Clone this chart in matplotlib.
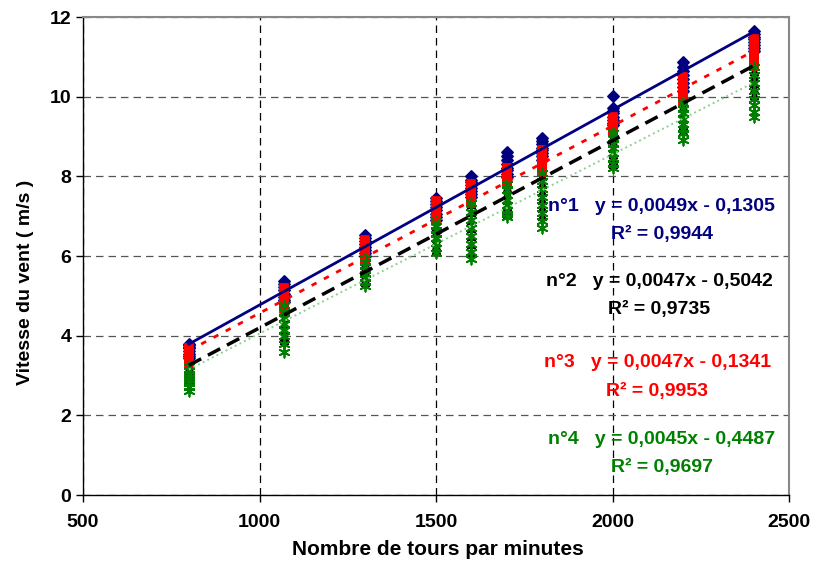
import matplotlib
matplotlib.use("Agg")
import matplotlib.pyplot as plt
import numpy as np

plt.rcParams['font.family'] = ['Liberation Sans', 'DejaVu Sans']
plt.rcParams['font.weight'] = 'bold'

rpm = [800, 1070, 1300, 1500, 1600, 1700, 1800, 2000, 2200, 2400]

s1 = [  # n°1 (blue)
    [3.80, 3.76, 3.72, 3.68, 3.62, 3.55, 3.50, 3.45],
    [5.38, 5.30, 5.22, 5.15, 5.05, 4.98, 4.90, 4.85],
    [6.52, 6.45, 6.38, 6.30, 6.22, 6.15, 6.08, 6.00],
    [7.45, 7.38, 7.30, 7.22, 7.15, 7.05, 6.98, 6.90],
    [8.00, 7.92, 7.85, 7.78, 7.70, 7.62, 7.55, 7.48],
    [8.62, 8.50, 8.40, 8.30, 8.22, 8.15, 8.05, 7.98],
    [8.95, 8.88, 8.80, 8.72, 8.65, 8.58, 8.50, 8.42],
    [10.02, 9.72, 9.65, 9.58, 9.50, 9.42, 9.35, 9.28],
    [10.88, 10.75, 10.65, 10.55, 10.45, 10.35, 10.25, 10.15],
    [11.65, 11.58, 11.50, 11.44, 11.38, 11.30, 11.22, 11.15],
]
s2 = [  # n°2 (black)
    [3.50, 3.40, 3.30, 3.20, 3.10, 3.00, 2.95, 2.90],
    [4.90, 4.75, 4.60, 4.45, 4.30, 4.15, 4.00, 3.90],
    [6.10, 5.95, 5.80, 5.70, 5.60, 5.50, 5.40, 5.35],
    [7.00, 6.90, 6.75, 6.60, 6.45, 6.35, 6.25, 6.15],
    [7.50, 7.30, 7.10, 6.90, 6.70, 6.50, 6.30, 6.10],
    [8.00, 7.85, 7.70, 7.55, 7.40, 7.25, 7.15, 7.05],
    [8.40, 8.20, 8.00, 7.80, 7.60, 7.40, 7.20, 7.00],
    [9.30, 9.15, 9.00, 8.85, 8.70, 8.55, 8.40, 8.30],
    [10.20, 10.05, 9.90, 9.75, 9.60, 9.45, 9.30, 9.15],
    [11.10, 10.95, 10.80, 10.65, 10.50, 10.35, 10.20, 10.05],
]
s3 = [  # n°3 (red)
    [3.70, 3.64, 3.58, 3.52, 3.46, 3.40, 3.34, 3.28],
    [5.20, 5.12, 5.05, 4.98, 4.90, 4.82, 4.75, 4.68],
    [6.40, 6.33, 6.26, 6.19, 6.12, 6.05, 5.98, 5.92],
    [7.38, 7.30, 7.22, 7.15, 7.08, 7.00, 6.94, 6.88],
    [7.80, 7.73, 7.66, 7.60, 7.53, 7.47, 7.40, 7.34],
    [8.20, 8.14, 8.08, 8.02, 7.96, 7.90, 7.85, 7.80],
    [8.66, 8.58, 8.50, 8.42, 8.34, 8.26, 8.18, 8.10],
    [9.50, 9.42, 9.36, 9.30, 9.24, 9.18, 9.12, 9.08],
    [10.50, 10.40, 10.32, 10.24, 10.16, 10.08, 10.00, 9.90],
    [11.45, 11.35, 11.25, 11.15, 11.05, 10.95, 10.85, 10.76],
]
s4 = [  # n°4 (green)
    [3.25, 3.15, 3.05, 2.95, 2.88, 2.80, 2.72, 2.62],
    [4.78, 4.60, 4.45, 4.30, 4.15, 4.00, 3.80, 3.58],
    [5.95, 5.85, 5.75, 5.65, 5.55, 5.45, 5.35, 5.25],
    [6.88, 6.75, 6.65, 6.55, 6.45, 6.32, 6.20, 6.08],
    [7.32, 7.10, 6.90, 6.70, 6.50, 6.30, 6.10, 5.92],
    [7.80, 7.65, 7.52, 7.40, 7.28, 7.15, 7.05, 6.98],
    [8.08, 7.88, 7.68, 7.48, 7.28, 7.08, 6.88, 6.70],
    [9.08, 8.95, 8.82, 8.70, 8.58, 8.45, 8.32, 8.20],
    [9.85, 9.70, 9.58, 9.45, 9.32, 9.20, 9.08, 8.92],
    [10.75, 10.55, 10.35, 10.15, 9.95, 9.78, 9.62, 9.50],
]

names = ["n°1", "n°2", "n°3", "n°4"]
slopes = [0.0049, 0.0047, 0.0047, 0.0045]
intercepts = [-0.1305, -0.5042, -0.1341, -0.4487]
r2 = ["0,9944", "0,9735", "0,9953", "0,9697"]
eq_text = ["y = 0,0049x - 0,1305", "y = 0,0047x - 0,5042",
           "y = 0,0047x - 0,1341", "y = 0,0045x - 0,4487"]

colors = ['#000080', '#000000', '#FF0000', '#008000']
markers = ['D', '^', 's', (6, 2, 0)]
msizes = [32, 30, 34, 55]
line_styles = ['-', (0, (4, 2.2)), (0, (2, 3)), ':']
line_colors = ['#000080', '#000000', '#FF0000', '#8FD08F']
line_widths = [2.0, 2.5, 2.0, 1.4]

fig = plt.figure(figsize=(8.16, 5.74), dpi=100)
ax = fig.add_axes([83/816, 1-495/574, (789-83)/816, (495-17)/574])

for series, col, mk, ms in zip([s1, s2, s3, s4], colors, markers, msizes):
    xs = []
    ys = []
    for r, vals in zip(rpm, series):
        xs.extend([r]*len(vals))
        ys.extend(vals)
    ax.scatter(xs, ys, marker=mk, s=ms, color=col, linewidths=1.3, zorder=3)

xl = np.array([min(rpm), max(rpm)])
for a, b, ls, lc, lw in zip(slopes, intercepts, line_styles, line_colors, line_widths):
    ax.plot(xl, a*xl + b, linestyle=ls, color=lc, linewidth=lw, zorder=4)

ax.set_xlim(500, 2500)
ax.set_ylim(0, 12)
ax.set_xticks([500, 1000, 1500, 2000, 2500])
ax.set_yticks([0, 2, 4, 6, 8, 10, 12])
ax.tick_params(axis='both', labelsize=14, direction='out', length=5, width=1)
ax.tick_params(axis='x', pad=9)
for lab in ax.get_xticklabels() + ax.get_yticklabels():
    lab.set_fontweight('bold')

ax.xaxis.grid(True, color='#000000', linestyle=(0, (6, 4)), linewidth=0.9)
ax.yaxis.grid(True, color='#555555', linestyle=(0, (6, 4)), linewidth=0.9)
ax.set_axisbelow(True)

for sp in ['top', 'right']:
    ax.spines[sp].set_color('#888888')
    ax.spines[sp].set_linewidth(1.5)
for sp in ['left', 'bottom']:
    ax.spines[sp].set_color('#000000')
    ax.spines[sp].set_linewidth(1.0)

ax.set_xlabel("Nombre de tours par minutes", fontsize=15, fontweight='bold')
ax.set_ylabel("Vitesse du vent ( m/s )", fontsize=14, fontweight='bold')
ax.xaxis.set_label_coords(0.503, -0.095)
ax.yaxis.set_label_coords(-0.07, 0.445)

eq_y = [7.25, 5.37, 3.33, 1.39]
r2_y = [6.55, 4.66, 2.60, 0.68]
cx = [2140, 2132, 2127, 2140]
for name, eq, rr, col, ey, ry, x in zip(names, eq_text, r2, colors, eq_y, r2_y, cx):
    ax.text(x, ey, f"{name}   {eq}", color=col, fontsize=14, fontweight='bold',
            ha='center', va='center', zorder=5)
    ax.text(x, ry, f"R² = {rr}", color=col, fontsize=14, fontweight='bold',
            ha='center', va='center', zorder=5)

fig.savefig("out.png", dpi=100)
